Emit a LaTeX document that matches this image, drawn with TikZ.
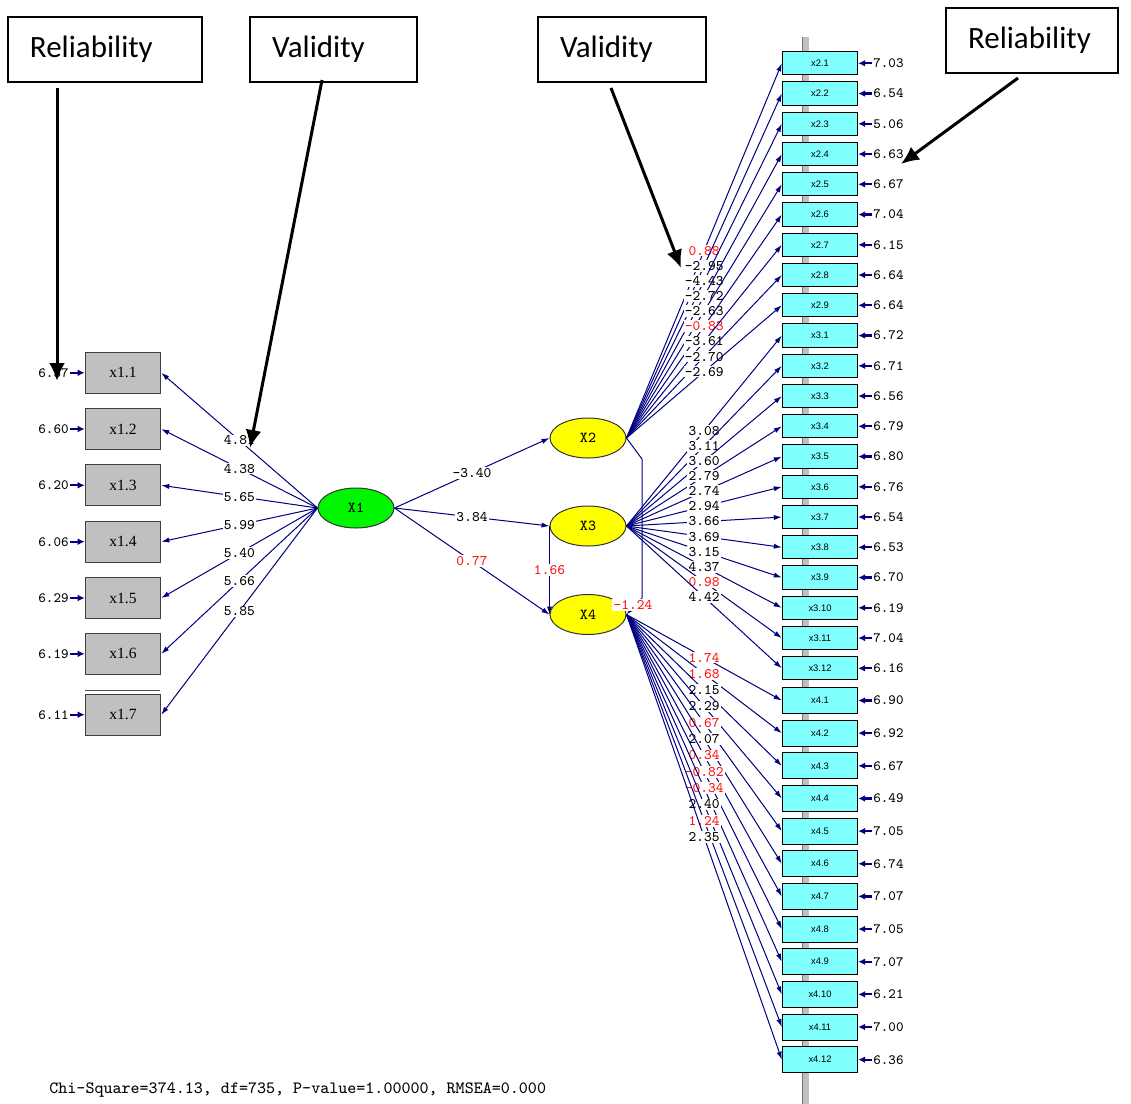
\documentclass[tikz,border=0pt]{standalone}
\usepackage{fontspec}
\usepackage{tikz}
\usetikzlibrary{shapes.geometric,arrows.meta}
\newfontfamily\calfont{Carlito}
\newfontfamily\indfont{Liberation Sans}
\newfontfamily\obsfont{Liberation Serif}
\definecolor{lisnavy}{RGB}{0,0,128}
\definecolor{indcyan}{RGB}{128,255,255}
\definecolor{obsgray}{RGB}{192,192,192}
\definecolor{lvgreen}{RGB}{0,245,0}
\definecolor{lvyellow}{RGB}{255,255,0}
\definecolor{numred}{RGB}{255,20,20}

\begin{document}
\begin{tikzpicture}[x=0.5pt,y=-0.5pt,
  obs/.style={rectangle,draw=black!75,line width=0.5pt,fill=obsgray,minimum width=37.8pt,minimum height=20.5pt,inner sep=0pt,font=\obsfont\fontsize{7.8}{8}\selectfont},
  ind/.style={rectangle,draw=black,line width=0.5pt,fill=indcyan,minimum width=37.7pt,minimum height=11.6pt,inner sep=0pt,font=\indfont\fontsize{4.7}{5}\selectfont},
  lv/.style={ellipse,draw=black!80,line width=0.5pt,minimum width=38pt,minimum height=20pt,inner sep=0pt,font=\ttfamily\fontsize{7.6}{8}\selectfont},
  load/.style={draw=lisnavy,line width=0.5pt,-{Latex[length=4pt,width=2.6pt]}},
  errarr/.style={draw=lisnavy,line width=1.1pt,-{Latex[length=3.5pt,width=3.4pt]}},
  coef/.style={fill=white,inner sep=0.6pt,font=\ttfamily\fontsize{7.3}{8}\selectfont},
  errnum/.style={inner sep=0.5pt,font=\ttfamily\fontsize{7.1}{8}\selectfont},
  tagbox/.style={draw=black,line width=0.8pt,fill=white,minimum height=32.5pt,align=left,inner xsep=11pt,text width=#1,font=\calfont\fontsize{15.5}{18}\selectfont},
  tagarr/.style={draw=black,line width=1.5pt,-{Latex[length=9pt,width=8pt]}}]
\useasboundingbox (0,0) rectangle (1131,1104);

% grey bar behind the indicators
\fill[obsgray] (802,37) rectangle (809,1104);
\draw[black!55,line width=0.5pt] (802,37) -- (802,1104);

% latent variables
\node[lv,fill=lvgreen] (X1) at (356,508) {X1};
\node[lv,fill=lvyellow] (X2) at (588,438) {X2};
\node[lv,fill=lvyellow] (X3) at (588,526) {X3};
\node[lv,fill=lvyellow] (X4) at (588,614.5) {X4};

\draw[load] (X1.east) -- node[coef] (l12) {-3.40} (X2.west);
\draw[load] (X1.east) -- node[coef] (l13) {3.84} (X3.west);
\draw[load] (X1.east) -- node[coef,text=numred] (l14) {0.77} (X4.west);
\draw[load] (X3.west) -- node[coef,text=numred] (l34) {1.66} (X4.west);
\coordinate (c1) at (642,459);
\coordinate (c2) at (642,598);
\draw[load] (X2.east) -- (c1) -- (c2) -- (X4.east);
\node[coef,text=numred] (l24) at (633,605) {-1.24};

% X1 indicators
\foreach \nm/\txt/\y/\ld/\er in {x11/x1.1/372.8/4.81/6.57, x12/x1.2/429/4.38/6.60,
  x13/x1.3/485.3/5.65/6.20, x14/x1.4/541.7/5.99/6.06, x15/x1.5/598/5.40/6.29,
  x16/x1.6/653.8/5.66/6.19, x17/x1.7/714.7/5.85/6.11}{
  \node[obs] (\nm) at (123,\y) {\txt};
  \node[errnum,anchor=east] (e\nm) at (70,\y) {\er};
  \draw[errarr] (e\nm) -- (\nm);
  \draw[load] (X1.west) -- node[coef] (l\nm) {\ld} (\nm.east);
}
\draw[black!70,line width=0.6pt] (x17.north west) ++(0,-3.5) -- ++(75.5,0);

% X2 indicators
\foreach \nm/\txt/\ld/\lc/\er [count=\k from 0] in {x21/x2.1/0.88/numred/7.03,
  x22/x2.2/-2.95/black/6.54, x23/x2.3/-4.43/black/5.06, x24/x2.4/-2.72/black/6.63,
  x25/x2.5/-2.63/black/6.67, x26/x2.6/-0.83/numred/7.04, x27/x2.7/-3.61/black/6.15,
  x28/x2.8/-2.70/black/6.64, x29/x2.9/-2.69/black/6.64}{
  \node[ind] (\nm) at (820,{63.3+30.25*\k}) {\txt};
  \node[errnum,anchor=west] (e\nm) at (872,{63.3+30.25*\k}) {\er};
  \draw[errarr] (e\nm) -- (\nm);
  \draw[load] (X2.east) -- node[coef,text=\lc] (l\nm) {\ld} (\nm.west);
}

% X3 indicators
\foreach \nm/\txt/\ld/\lc/\er [count=\k from 9] in {x31/x3.1/3.08/black/6.72,
  x32/x3.2/3.11/black/6.71, x33/x3.3/3.60/black/6.56, x34/x3.4/2.79/black/6.79,
  x35/x3.5/2.74/black/6.80, x36/x3.6/2.94/black/6.76, x37/x3.7/3.66/black/6.54,
  x38/x3.8/3.69/black/6.53, x39/x3.9/3.15/black/6.70, x310/x3.10/4.37/black/6.19,
  x311/x3.11/0.98/numred/7.04, x312/x3.12/4.42/black/6.16}{
  \node[ind] (\nm) at (820,{63.3+30.25*\k}) {\txt};
  \node[errnum,anchor=west] (e\nm) at (872,{63.3+30.25*\k}) {\er};
  \draw[errarr] (e\nm) -- (\nm);
  \draw[load] (X3.east) -- node[coef,text=\lc] (l\nm) {\ld} (\nm.west);
}

% X4 indicators
\foreach \nm/\txt/\ld/\lc/\er [count=\k from 0] in {x41/x4.1/1.74/numred/6.90,
  x42/x4.2/1.68/numred/6.92, x43/x4.3/2.15/black/6.67, x44/x4.4/2.29/black/6.49,
  x45/x4.5/0.67/numred/7.05, x46/x4.6/2.07/black/6.74, x47/x4.7/0.34/numred/7.07,
  x48/x4.8/-0.82/numred/7.05, x49/x4.9/-0.34/numred/7.07, x410/x4.10/2.40/black/6.21,
  x411/x4.11/1.24/numred/7.00, x412/x4.12/2.35/black/6.36}{
  \node[ind,minimum height=13pt] (\nm) at (820,{700.5+32.65*\k}) {\txt};
  \node[errnum,anchor=west] (e\nm) at (872,{700.5+32.65*\k}) {\er};
  \draw[errarr] (e\nm) -- (\nm);
  \draw[load] (X4.east) -- node[coef,text=\lc] (l\nm) {\ld} (\nm.west);
}

\node[anchor=west,inner sep=0pt,font=\ttfamily\fontsize{8.6}{9}\selectfont] (fit) at (49,1090)
  {Chi-Square=374.13, df=735, P-value=1.00000, RMSEA=0.000};

% callouts
\node[tagbox=75pt] (rel1) at (105,49.5) {Reliability};
\node[tagbox=61.5pt] (val1) at (333.5,49.5) {Validity};
\node[tagbox=62pt] (val2) at (622,49.5) {Validity};
\node[tagbox=64pt] (rel2) at (1032,40.5) {Reliability};
\coordinate (r1a) at (57,88);   \coordinate (r1b) at (57,381);
\coordinate (v1a) at (322,80);  \coordinate (v1b) at (250,448);
\coordinate (v2a) at (611,88);  \coordinate (v2b) at (681,268);
\coordinate (r2a) at (1018,78); \coordinate (r2b) at (901,164);
\draw[tagarr] (r1a) -- (r1b);
\draw[tagarr] (v1a) -- (v1b);
\draw[tagarr] (v2a) -- (v2b);
\draw[tagarr] (r2a) -- (r2b);
\end{tikzpicture}
\end{document}
